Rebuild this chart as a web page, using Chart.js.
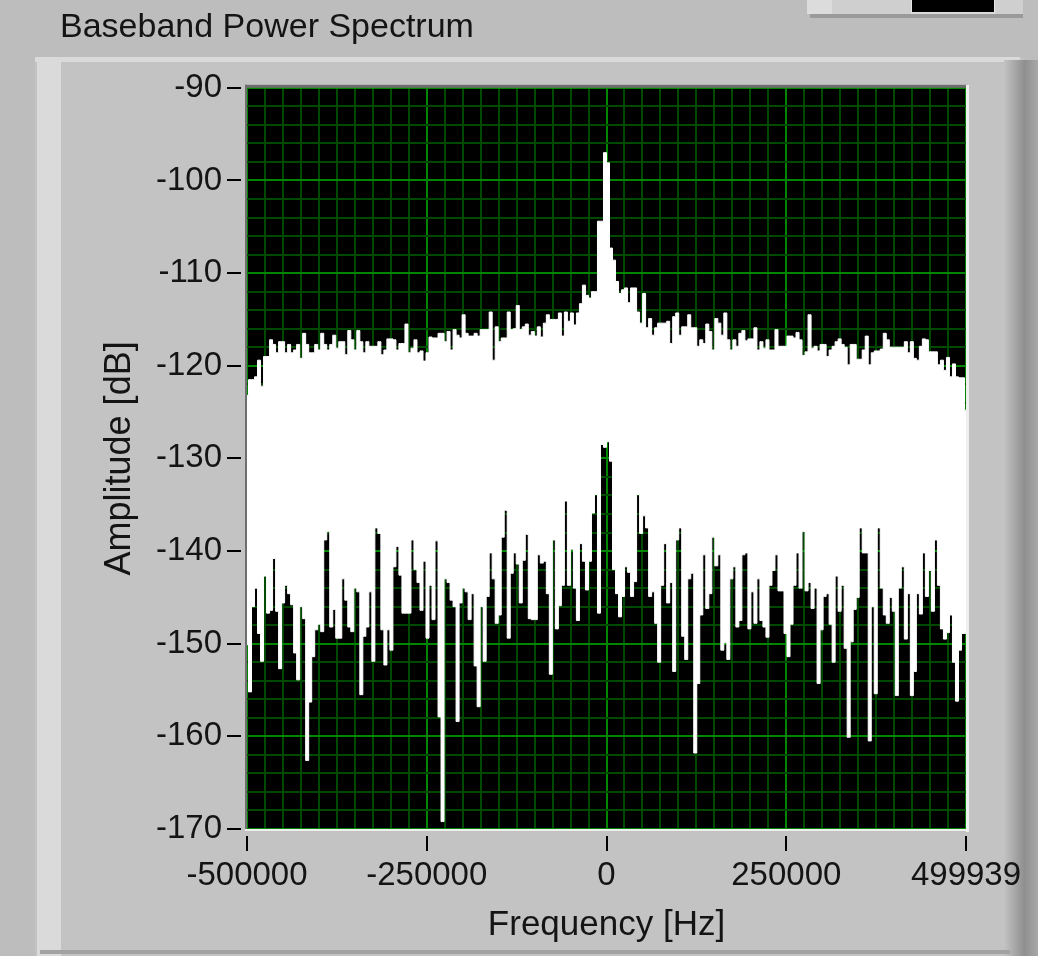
<!DOCTYPE html>
<html lang="en">
<head>
<meta charset="UTF-8">
<title>Baseband Power Spectrum</title>
<script src="https://cdn.jsdelivr.net/npm/chart.js"></script>
<style>
    html, body { margin: 0; padding: 0; background: #bdbdbd; }
    .wrap { width: 1038px; height: 956px; position: relative; }
</style>
</head>
<body>
<div class="wrap"><canvas id="spectrum"></canvas></div>
<script>
// spectrum, 240 bins from -500000 Hz to 499939 Hz (dB)
const fStart = -500000;
const fStop = 499939;

// upper edge of the trace
const upperDb = [
    -123.2, -121.5, -121.5, -121.2, -119.4, -122.2, -119.0, -119.0, -117.2, -117.7,
    -118.6, -117.4, -117.4, -118.6, -117.7, -118.6, -118.3, -117.7, -119.2, -116.5,
    -117.7, -118.6, -118.6, -117.7, -118.3, -116.5, -117.7, -118.3, -117.7, -116.7,
    -118.1, -117.4, -117.4, -118.8, -116.2, -117.2, -118.3, -116.2, -117.4, -118.6,
    -117.4, -117.9, -117.9, -117.9, -117.4, -118.8, -118.3, -117.1, -117.1, -117.2,
    -118.3, -117.6, -117.6, -115.5, -118.6, -118.1, -117.2, -118.6, -118.4, -119.5,
    -118.6, -116.9, -117.0, -117.0, -116.5, -116.5, -117.4, -116.3, -118.3, -116.1,
    -116.7, -117.0, -114.5, -116.5, -116.8, -116.8, -116.5, -116.8, -116.1, -116.1,
    -116.1, -114.2, -119.4, -115.8, -117.4, -117.0, -117.0, -114.2, -116.1, -116.0,
    -113.5, -116.1, -115.8, -115.5, -116.7, -116.3, -116.8, -115.8, -116.9, -115.4,
    -114.5, -115.0, -115.0, -115.0, -114.3, -116.8, -114.2, -115.2, -114.3, -115.6,
    -114.3, -113.3, -111.3, -112.4, -112.7, -112.0, -112.0, -104.4, -104.4, -97.0,
    -98.1, -107.3, -108.6, -110.9, -112.2, -111.8, -111.6, -113.2, -111.6, -111.6,
    -114.2, -115.4, -112.2, -115.9, -114.9, -116.7, -115.9, -115.4, -115.4, -115.4,
    -115.2, -117.6, -114.7, -114.3, -116.7, -115.8, -115.8, -114.5, -115.9, -115.9,
    -117.9, -117.2, -117.6, -115.5, -116.3, -118.3, -114.9, -115.4, -116.7, -114.3,
    -117.2, -118.3, -117.2, -117.9, -116.5, -116.2, -117.3, -117.1, -117.1, -115.9,
    -118.3, -117.4, -118.1, -117.2, -118.3, -118.3, -116.1, -117.9, -117.9, -117.9,
    -116.8, -116.8, -117.0, -116.4, -117.2, -118.9, -118.5, -114.5, -118.1, -117.9,
    -118.4, -117.7, -117.7, -119.0, -118.3, -117.9, -117.4, -117.1, -117.7, -118.0,
    -119.9, -117.7, -117.7, -119.3, -119.3, -118.3, -116.8, -119.9, -118.6, -118.4,
    -118.4, -118.2, -116.5, -117.2, -118.0, -118.0, -118.0, -118.0, -118.0, -117.4,
    -118.6, -117.4, -119.2, -119.4, -117.9, -117.1, -117.2, -118.5, -118.5, -118.5,
    -119.9, -119.4, -120.5, -119.1, -121.2, -119.8, -121.2, -121.3, -121.3, -124.8
];

// lower edge of the trace
const lowerDb = [
    -150.1, -155.2, -146.0, -144.0, -148.9, -151.9, -142.7, -146.7, -146.4, -140.8,
    -146.5, -152.7, -145.6, -143.7, -144.6, -145.8, -151.0, -153.9, -146.0, -147.3,
    -162.6, -156.3, -151.4, -148.5, -147.9, -148.7, -138.8, -137.9, -148.2, -146.3,
    -149.4, -149.4, -143.0, -145.3, -148.2, -148.7, -144.0, -144.4, -155.5, -149.2,
    -148.2, -144.4, -151.9, -137.5, -138.1, -148.5, -152.3, -148.5, -150.7, -141.7,
    -139.5, -142.6, -146.7, -146.7, -146.7, -138.8, -142.0, -143.4, -146.4, -141.1,
    -149.4, -143.7, -147.4, -138.9, -157.9, -169.2, -143.0, -143.4, -145.3, -146.0,
    -158.4, -145.6, -144.0, -144.4, -147.4, -144.6, -152.4, -156.8, -146.0, -151.9,
    -144.9, -140.2, -143.0, -147.8, -146.9, -138.5, -135.6, -149.4, -142.4, -140.2,
    -141.4, -145.6, -141.0, -138.2, -147.3, -147.4, -147.4, -140.4, -141.3, -141.1,
    -144.6, -153.3, -138.8, -148.4, -145.9, -143.7, -134.6, -143.7, -139.8, -144.0,
    -147.5, -139.2, -141.1, -144.2, -141.1, -135.9, -133.9, -146.7, -128.5, -128.8,
    -128.2, -130.3, -142.0, -144.6, -147.1, -144.9, -141.7, -142.3, -144.9, -143.3,
    -133.9, -138.1, -136.2, -137.5, -144.9, -144.4, -147.8, -152.0, -143.7, -139.2,
    -145.6, -143.4, -153.0, -138.8, -137.5, -149.2, -151.7, -143.0, -142.4, -161.8,
    -154.3, -146.9, -140.4, -146.2, -144.6, -138.5, -141.6, -140.4, -150.7, -149.9,
    -151.7, -143.0, -141.7, -148.2, -147.5, -140.4, -140.2, -148.4, -144.4, -147.8,
    -143.0, -147.5, -148.2, -149.3, -143.7, -142.1, -140.4, -144.3, -144.3, -148.9,
    -151.4, -147.9, -143.7, -140.2, -144.0, -137.9, -144.3, -143.4, -146.2, -144.0,
    -154.3, -148.5, -144.9, -144.6, -147.9, -152.0, -142.7, -146.5, -143.7, -150.5,
    -160.1, -149.8, -146.3, -145.0, -137.5, -140.2, -140.2, -160.5, -146.0, -155.4,
    -137.5, -144.0, -146.9, -147.8, -145.0, -146.5, -155.6, -144.0, -141.7, -149.5,
    -144.6, -155.6, -153.0, -144.6, -146.8, -140.2, -144.9, -142.1, -146.5, -138.8,
    -143.7, -148.4, -149.5, -148.8, -146.9, -152.0, -156.2, -150.7, -148.9, -148.9
];

const binHz = (fStop - fStart) / (upperDb.length - 1);
const freqs = upperDb.map((_, i) => fStart + i * binHz);

const xTickValues = [-500000, -250000, 0, 250000, 499939];
const xTickLabels = ['-500000', '-250000', '0', '250000', '499939'];
const yTickValues = [-170, -160, -150, -140, -130, -120, -110, -100, -90];
const yTickLabels = ['-170', '-160', '-150', '-140', '-130', '-120', '-110', '-100', '-90'];

// minor grid: every 25000 Hz and every 2 dB
const xGrid = [];
for (let f = fStart; f < fStop; f += 25000) xGrid.push(f);
xGrid.push(fStop);
const yGrid = [];
for (let d = -170; d <= -90; d += 2) yGrid.push(d);

const majorGreen = '#008600';
const minorGreen = '#004a00';
const textColor = '#141414';
Chart.defaults.font.family = "'Liberation Sans', Arial, sans-serif";

function isMajorX(c) { return c.tick && xTickValues.includes(c.tick.value); }
function isMajorY(c) { return c.tick && yTickValues.includes(c.tick.value); }

// grey panel, black plot area, sunken frame
const panelPlugin = {
    id: 'panel',
    beforeDraw(chart) {
        const { ctx, chartArea: a, width, height } = chart;
        ctx.save();
        ctx.fillStyle = '#bdbdbd';
        ctx.fillRect(0, 0, width, height);

        // small control in the top right corner
        ctx.fillStyle = '#cfcfcf';
        ctx.fillRect(807, 0, 216, 14);
        ctx.fillStyle = '#dcdcdc';
        ctx.fillRect(807, 0, 25, 14);
        ctx.fillStyle = '#9a9a9a';
        ctx.fillRect(810, 14, 213, 4);
        ctx.fillStyle = '#000';
        ctx.fillRect(912, 0, 82, 12);
        ctx.strokeStyle = '#e6e6e6';
        ctx.lineWidth = 1;
        ctx.strokeRect(911.5, -1, 83, 14);

        // raised panel holding the graph
        ctx.fillStyle = '#c3c3c3';
        ctx.fillRect(35, 58, 990, height - 58);
        ctx.fillStyle = '#dadada';
        ctx.fillRect(35, 57, 985, 5);
        ctx.fillRect(37, 57, 24, height - 57);
        const g = ctx.createLinearGradient(1004, 0, 1038, 0);
        g.addColorStop(0, '#c3c3c3');
        g.addColorStop(0.6, '#8f8f8f');
        g.addColorStop(1, '#a8a8a8');
        ctx.fillStyle = g;
        ctx.fillRect(1004, 60, 34, height - 60);
        ctx.fillStyle = '#a2a2a2';
        ctx.fillRect(40, 950, 970, 4);

        // plot background
        ctx.fillStyle = '#000';
        ctx.fillRect(a.left, a.top, a.right - a.left, a.bottom - a.top);
        ctx.restore();
    },
    afterDraw(chart) {
        const { ctx, chartArea: a } = chart;
        ctx.save();
        ctx.fillStyle = '#6e6e6e';
        ctx.fillRect(a.left - 2, a.top - 3, a.right - a.left + 4, 3);
        ctx.fillRect(a.left - 2, a.top - 3, 2, a.bottom - a.top + 5);
        ctx.fillStyle = '#efefef';
        ctx.fillRect(a.right, a.top - 3, 3, a.bottom - a.top + 6);
        ctx.fillRect(a.left - 2, a.bottom, a.right - a.left + 5, 2);
        ctx.restore();
    }
};

new Chart(document.getElementById('spectrum'), {
    type: 'line',
    data: {
        datasets: [
            {
                label: 'peak',
                data: freqs.map((f, i) => ({ x: f, y: upperDb[i] })),
                borderColor: '#ffffff',
                backgroundColor: '#ffffff',
                borderWidth: 1,
                pointRadius: 0,
                stepped: 'middle',
                fill: '+1'
            },
            {
                label: 'floor',
                data: freqs.map((f, i) => ({ x: f, y: lowerDb[i] })),
                borderColor: '#ffffff',
                borderWidth: 1,
                pointRadius: 0,
                stepped: 'middle',
                fill: false
            }
        ]
    },
    options: {
        responsive: true,
        maintainAspectRatio: false,
        animation: false,
        layout: { padding: { left: 60, right: 72, top: 0, bottom: 0 } },
        plugins: {
            legend: { display: false },
            tooltip: { enabled: false },
            title: {
                display: true,
                text: 'Baseband Power Spectrum',
                align: 'start',
                color: textColor,
                font: { size: 34, weight: 'normal' },
                padding: { top: 7, bottom: 40 }
            }
        },
        scales: {
            x: {
                type: 'linear',
                min: fStart,
                max: fStop,
                afterBuildTicks: s => { s.ticks = xGrid.map(v => ({ value: v })); },
                afterFit: s => { s.height = 127; },
                border: { display: false },
                grid: {
                    color: c => isMajorX(c) ? majorGreen : minorGreen,
                    lineWidth: 2,
                    tickLength: 22,
                    tickWidth: 2,
                    tickColor: c => isMajorX(c) ? '#000' : 'rgba(0,0,0,0)',
                    tickBorderDash: [0, 7, 15, 100]
                },
                ticks: {
                    autoSkip: false,
                    maxRotation: 0,
                    padding: 5,
                    color: textColor,
                    font: { size: 33 },
                    callback: v => {
                        const k = xTickValues.indexOf(v);
                        return k < 0 ? '' : xTickLabels[k];
                    }
                },
                title: {
                    display: true,
                    text: 'Frequency [Hz]',
                    color: textColor,
                    font: { size: 35 },
                    padding: { top: 0, bottom: 10 }
                }
            },
            y: {
                type: 'linear',
                min: -170,
                max: -90,
                afterBuildTicks: s => { s.ticks = yGrid.map(v => ({ value: v })); },
                afterFit: s => { s.width = 187; },
                border: { display: false },
                grid: {
                    color: c => isMajorY(c) ? majorGreen : minorGreen,
                    lineWidth: 2,
                    tickLength: 20,
                    tickWidth: 2,
                    tickColor: c => isMajorY(c) ? '#000' : 'rgba(0,0,0,0)',
                    tickBorderDash: [14, 6]
                },
                ticks: {
                    autoSkip: false,
                    padding: 5,
                    color: textColor,
                    font: { size: 33 },
                    callback: v => {
                        const k = yTickValues.indexOf(v);
                        return k < 0 ? '' : yTickLabels[k];
                    }
                },
                title: {
                    display: true,
                    text: 'Amplitude [dB]',
                    color: textColor,
                    font: { size: 36 },
                    padding: { top: 38, bottom: 0 }
                }
            }
        }
    },
    plugins: [panelPlugin]
});
</script>
</body>
</html>
